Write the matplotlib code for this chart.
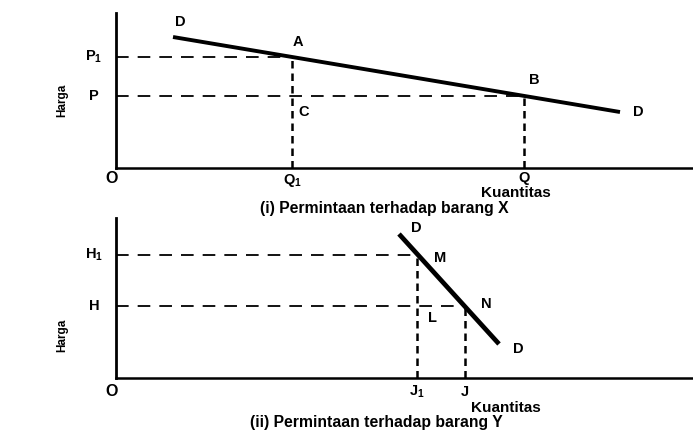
import matplotlib.pyplot as plt

plt.rcParams['font.family'] = ['Liberation Sans', 'DejaVu Sans']
plt.rcParams['mathtext.fontset'] = 'custom'
plt.rcParams['mathtext.rm'] = 'Liberation Sans:bold'
plt.rcParams['mathtext.bf'] = 'Liberation Sans:bold'

# (i) permintaan barang X - kurva landai
kurva_x = [1.425, 12.6]
kurva_y = [6.55, 2.8]
q1, q = 4.4, 10.2
p1, p = 5.55, 3.6

# (ii) permintaan barang Y - kurva curam
kurva2_x = [7.075, 9.575]
kurva2_y = [7.2, 1.7]
j1, j = 7.525, 8.725
h1, h = 6.15, 3.6

fig = plt.figure(figsize=(6.93, 4.38), dpi=100)
ax1 = fig.add_axes([0.1674, 0.6164, 0.8326, 0.3539])
ax2 = fig.add_axes([0.1674, 0.137, 0.8326, 0.3653])

fs = 10.5
for ax, ytop in [(ax1, 7.75), (ax2, 8.0)]:
    ax.set_xlim(0, 14.425)
    ax.set_ylim(0, ytop)
    ax.spines['top'].set_visible(False)
    ax.spines['right'].set_visible(False)
    ax.spines['left'].set_linewidth(2)
    ax.spines['bottom'].set_linewidth(1.8)
    ax.set_xticks([])
    ax.set_yticks([])
    ax.patch.set_alpha(0)

def teks(ax, x, y, s, size=fs, **kw):
    ax.text(x, y, s, fontsize=size, fontweight='bold', ha='center', va='center',
            clip_on=False, **kw)

# panel atas
ax1.plot(kurva_x, kurva_y, color='black', lw=2.8, solid_capstyle='butt')
ax1.plot([0, q1], [p1, p1], color='black', lw=1.3, dashes=(7, 5))
ax1.plot([0, q], [p, p], color='black', lw=1.3, dashes=(7, 5))
ax1.plot([q1, q1], [0, p1], color='black', lw=1.8, dashes=(3, 2))
ax1.plot([q, q], [0, p], color='black', lw=1.8, dashes=(3, 2))

teks(ax1, 1.6, 7.3, 'D')
teks(ax1, 4.55, 6.3, 'A')
teks(ax1, 4.7, 2.8, 'C')
teks(ax1, 10.45, 4.4, 'B')
teks(ax1, 13.05, 2.8, 'D')
teks(ax1, -0.55, p1, r'$\mathbf{P_1}$')
teks(ax1, -0.55, p, 'P')
teks(ax1, -0.1, -0.5, 'O', size=11.5)
teks(ax1, q1, -0.6, r'$\mathbf{Q_1}$')
teks(ax1, q, -0.5, 'Q')
teks(ax1, 10.0, -1.25, 'Kuantitas', size=11)
teks(ax1, 6.7, -2.0, '(i) Permintaan terhadap barang X', size=11.3)
teks(ax1, -1.35, 3.4, 'Harga', rotation=90, size=8.5)

# panel bawah
ax2.plot(kurva2_x, kurva2_y, color='black', lw=3.4, solid_capstyle='butt')
ax2.plot([0, j1], [h1, h1], color='black', lw=1.3, dashes=(7, 5))
ax2.plot([0, j], [h, h], color='black', lw=1.3, dashes=(7, 5))
ax2.plot([j1, j1], [0, h1], color='black', lw=1.8, dashes=(3, 2))
ax2.plot([j, j], [0, h], color='black', lw=1.8, dashes=(3, 2))

teks(ax2, 7.5, 7.5, 'D')
teks(ax2, 8.1, 6.0, 'M')
teks(ax2, 9.25, 3.7, 'N')
teks(ax2, 7.9, 3.0, 'L')
teks(ax2, 10.05, 1.45, 'D')
teks(ax2, -0.55, h1, r'$\mathbf{H_1}$')
teks(ax2, -0.55, h, 'H')
teks(ax2, -0.1, -0.7, 'O', size=11.5)
teks(ax2, j1, -0.7, r'$\mathbf{J_1}$')
teks(ax2, j, -0.7, 'J')
teks(ax2, 9.75, -1.5, 'Kuantitas', size=11)
teks(ax2, 6.5, -2.25, '(ii) Permintaan terhadap barang Y', size=11.3)
teks(ax2, -1.35, 2.15, 'Harga', rotation=90, size=8.5)

fig.savefig('out.png', dpi=100, facecolor='white')
